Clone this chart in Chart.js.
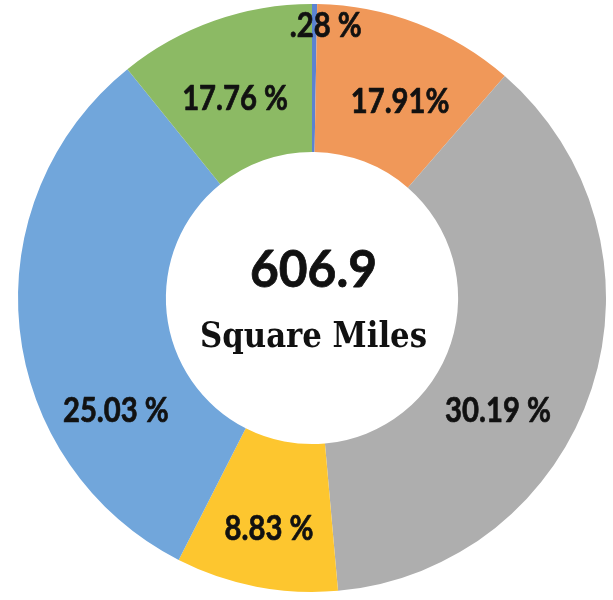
<!DOCTYPE html>
<html>
<head>
<meta charset="utf-8">
<script src="https://cdn.jsdelivr.net/npm/chart.js@4/dist/chart.umd.min.js"></script>
<style>
  body { margin: 0; background: #ffffff; }
  canvas { display: block; }
</style>
</head>
<body>
<canvas id="chart" width="613" height="600"></canvas>
<script>
// Slices, clockwise from 12 o'clock
const categories = ["Slice 1", "Slice 2", "Slice 3", "Slice 4", "Slice 5", "Slice 6"];
// share of the ring each slice covers
const sliceShares = [0.28, 11.1, 37.2, 8.9, 31.7, 10.8];
// the percentages printed on the slices
const sliceLabels = [".28 %", "17.91%", "30.19 %", "8.83 %", "25.03 %", "17.76 %"];
const totalValue = "606.9";
const totalUnit = "Square Miles";

const sliceColors = ["#5B83D1", "#F09859", "#AEAEAE", "#FDC62F", "#71A6DB", "#8CBA64"];

// where each printed label sits: angle clockwise from top (deg), fraction of outer radius
const labelSpots = [
    [2.9, 0.93],
    [24, 0.737],
    [121, 0.738],
    [190.6, 0.795],
    [240.3, 0.768],
    [339, 0.73]
];

// draw text squeezed to a given width
function squeezeText(ctx, text, x, y, maxW, thick) {
    const w = ctx.measureText(text).width;
    const sx = maxW ? maxW / w : 1;
    ctx.save();
    ctx.translate(x, y);
    ctx.scale(sx, 1);
    if (thick) {
        ctx.lineWidth = thick;
        ctx.strokeText(text, 0, 0);
    }
    ctx.fillText(text, 0, 0);
    ctx.restore();
}

const labelPlugin = {
    id: 'sliceText',
    afterDatasetsDraw(chart) {
        const ctx = chart.ctx;
        const arc = chart.getDatasetMeta(0).data[0];
        const cx = arc.x, cy = arc.y, R = arc.outerRadius;

        ctx.save();
        ctx.fillStyle = '#111111';
        ctx.strokeStyle = '#111111';
        ctx.lineJoin = 'round';
        ctx.textAlign = 'center';
        ctx.textBaseline = 'alphabetic';

        ctx.font = 'bold 34px Lato';
        sliceLabels.forEach(function(txt, i) {
            const a = labelSpots[i][0] * Math.PI / 180;
            const r = labelSpots[i][1] * R;
            const x = cx + r * Math.sin(a);
            const y = cy - r * Math.cos(a);
            const w = ctx.measureText(txt).width * 0.86;
            squeezeText(ctx, txt, x, y + 12.5, w, 0.7);
        });

        // centre text
        ctx.font = 'bold 52px Lato';
        squeezeText(ctx, totalValue, cx + 1.5, cy - 30 + 18.5, 127, 0.8);
        ctx.font = 'bold 36px "DejaVu Serif Condensed"';
        squeezeText(ctx, totalUnit, cx + 1.5, cy + 36 + 12.5, 227, 0);
        ctx.restore();
    }
};

const ctx = document.getElementById("chart");

const config = {
    type: 'doughnut',
    data: {
        labels: categories,
        datasets: [{
            data: sliceShares,
            backgroundColor: sliceColors,
            borderWidth: 0,
            hoverOffset: 0
        }]
    },
    options: {
        responsive: false,
        animation: false,
        cutout: '49.7%',
        layout: {
            padding: { top: 4, bottom: 8, left: 18, right: 7 }
        },
        plugins: {
            legend: { display: false },
            tooltip: { enabled: false }
        }
    },
    plugins: [labelPlugin]
};

const donutChart = new Chart(ctx, config);
</script>
</body>
</html>
